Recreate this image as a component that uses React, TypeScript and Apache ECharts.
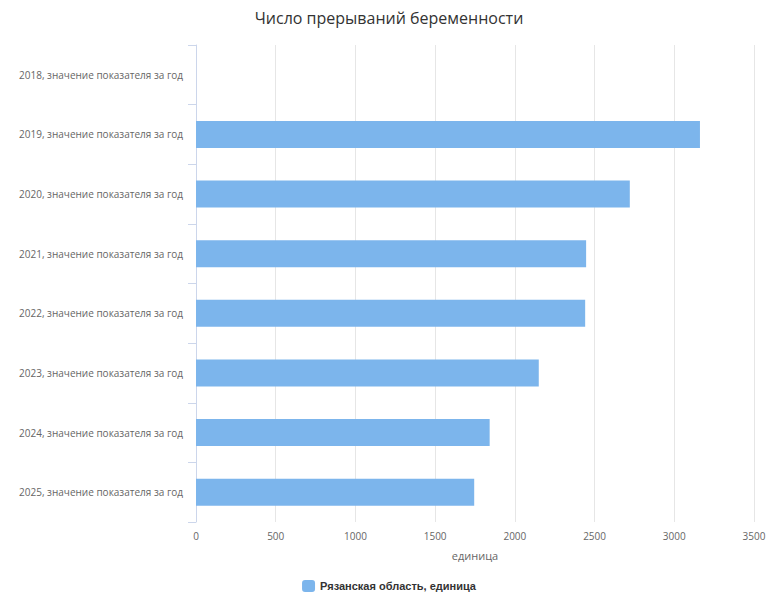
import React, { useEffect, useRef } from "react";
import * as echarts from "echarts";

const categories = [
  "2018, значение показателя за год",
  "2019, значение показателя за год",
  "2020, значение показателя за год",
  "2021, значение показателя за год",
  "2022, значение показателя за год",
  "2023, значение показателя за год",
  "2024, значение показателя за год",
  "2025, значение показателя за год",
];
const values: (number | null)[] = [null, 3161, 2721, 2447, 2441, 2150, 1842, 1745];
const seriesName = "Рязанская область, единица";
const titleText = "Число прерываний беременности";
const xAxisName = "единица";

export default function App() {
  const ref = useRef<HTMLDivElement>(null);
  useEffect(() => {
    if (!ref.current) return;
    const chart = echarts.init(ref.current, null, { renderer: "svg" });
    chart.setOption({
      animation: false,
      backgroundColor: "#ffffff",
      title: {
        text: titleText,
        left: "center",
        top: 5,
        textStyle: {
          fontFamily: "Open Sans",
          fontSize: 16,
          fontWeight: "normal",
          color: "#333333",
        },
      },
      legend: {
        bottom: 3,
        left: "center",
        icon: "roundRect",
        itemWidth: 13,
        itemHeight: 12,
        itemGap: 6,
        textStyle: {
          fontFamily: "Liberation Sans",
          fontSize: 11,
          fontWeight: "bold",
          color: "#333333",
        },
        data: [seriesName],
      },
      grid: { left: 196, top: 45, width: 558, height: 477, containLabel: false },
      xAxis: {
        type: "value",
        min: 0,
        max: 3500,
        interval: 500,
        name: xAxisName,
        nameLocation: "middle",
        nameGap: 28,
        nameTextStyle: { fontFamily: "Open Sans", fontSize: 11, color: "#666666" },
        axisLine: { show: false },
        axisTick: { show: false },
        axisLabel: {
          fontFamily: "Open Sans",
          fontSize: 10,
          color: "#666666",
          margin: 9,
          formatter: (v: number) => String(v),
        },
        splitLine: { show: true, lineStyle: { color: "#e6e6e6", width: 1 } },
      },
      yAxis: {
        type: "category",
        inverse: true,
        data: categories,
        axisLine: { show: true, lineStyle: { color: "#ccd6eb" } },
        axisTick: { show: true, length: 8, lineStyle: { color: "#ccd6eb" } },
        axisLabel: { fontFamily: "Open Sans", fontSize: 10, color: "#666666", margin: 13 },
        splitLine: { show: false },
      },
      series: [
        {
          name: seriesName,
          type: "bar",
          data: values,
          barWidth: 27,
          itemStyle: { color: "#7cb5ec" },
        },
      ],
    });
    return () => chart.dispose();
  }, []);
  return (
    <div
      ref={ref}
      style={{ position: "fixed", left: 0, top: 0, width: 778, height: 600 }}
    />
  );
}
